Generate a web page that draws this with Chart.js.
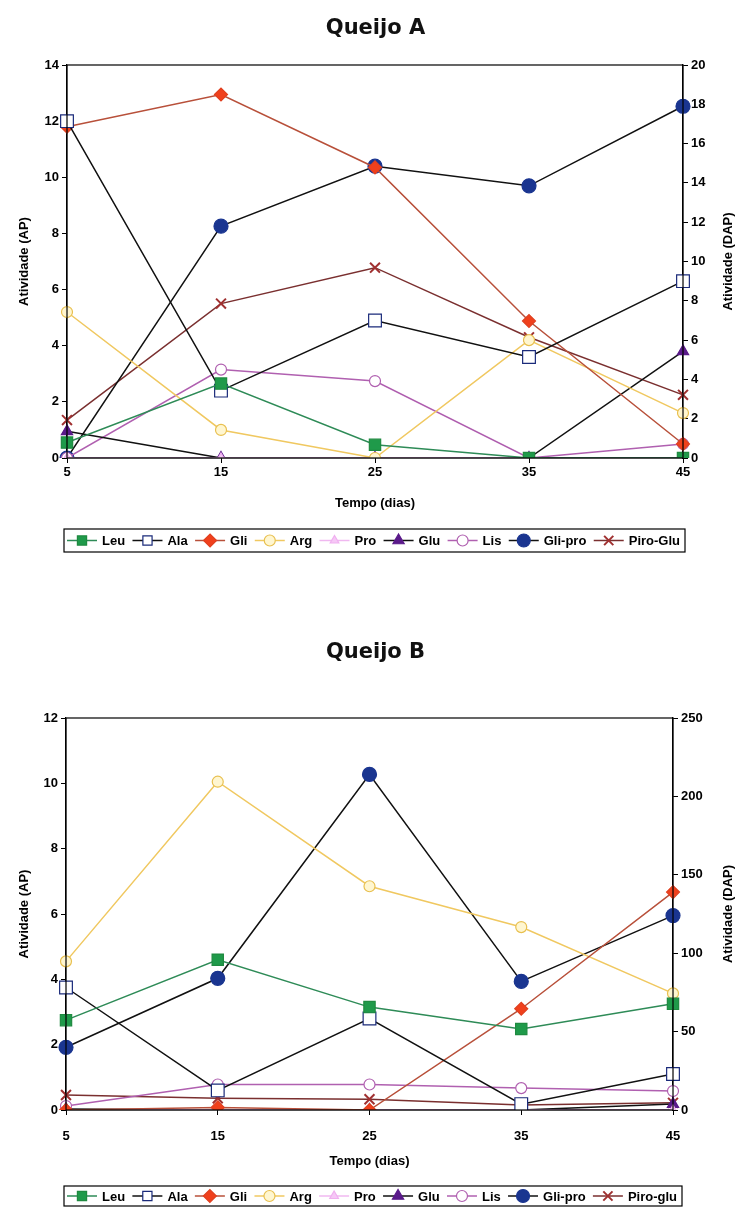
<!DOCTYPE html>
<html>
<head>
<meta charset="utf-8">
<script src="https://cdn.jsdelivr.net/npm/chart.js@4.4.0/dist/chart.umd.min.js"></script>
<style>
body { margin: 0; background: #fff; }
canvas { display: block; }
</style>
</head>
<body>
<canvas id="chartA" width="741" height="600"></canvas>
<canvas id="chartB" width="741" height="607"></canvas>
<script>
// x categories
const days = ['5', '15', '25', '35', '45'];

// Queijo A (AP axis, Gli-pro on DAP axis)
const leuA = [0.55, 2.65, 0.47, 0, 0];
const alaA = [12.0, 2.4, 4.9, 3.6, 6.3];
const gliA = [11.8, 12.95, 10.35, 4.88, 0.5];
const argA = [5.2, 1.0, 0, 4.2, 1.6];
const proA = [0, 0, 0, 0, 0];
const gluA = [0.95, 0, 0, 0, 3.8];
const lisA = [0, 3.15, 2.74, 0, 0.5];
const gliProA = [0, 11.8, 14.85, 13.85, 17.9];
const piroA = [1.35, 5.5, 6.78, 4.3, 2.25];

// Queijo B (AP axis, Gli-pro on DAP axis)
const leuB = [2.75, 4.6, 3.15, 2.48, 3.25];
const alaB = [3.75, 0.6, 2.8, 0.18, 1.1];
const gliB = [0, 0.08, 0, 3.1, 6.67];
const argB = [4.55, 10.05, 6.85, 5.6, 3.57];
const proB = [0, 0, 0, 0, 0];
const gluB = [0.03, 0, 0, 0, 0.18];
const lisB = [0.12, 0.78, 0.78, 0.67, 0.58];
const gliProB = [40, 84, 214, 82, 124];
const piroB = [0.46, 0.36, 0.33, 0.15, 0.22];

const FONT = "'Liberation Sans', Arial, sans-serif";

// series look, in legend order
const looks = [
    { label: 'Leu', line: '#2e8b57', fill: '#1f9a4a', stroke: '#1f8a40', style: 'rect', r: 8 },
    { label: 'Ala', line: '#111111', fill: '#ffffff', stroke: '#1a2a7a', style: 'rect', r: 9 },
    { label: 'Gli', line: '#b8503a', fill: '#f0401c', stroke: '#e04020', style: 'rectRot', r: 6.5 },
    { label: 'Arg', line: '#f0c860', fill: '#fff6d0', stroke: '#e8c050', style: 'circle', r: 5.5 },
    { label: 'Pro', line: '#f0b8f0', fill: '#f6c8f6', stroke: '#f0b0f0', style: 'triangle', r: 5 },
    { label: 'Glu', line: '#111111', fill: '#5a1a8a', stroke: '#5a1a8a', style: 'triangle', r: 6.5 },
    { label: 'Lis', line: '#b060b0', fill: '#ffffff', stroke: '#b060b0', style: 'circle', r: 5.5 },
    { label: 'Gli-pro', line: '#111111', fill: '#1a3590', stroke: '#1a3590', style: 'circle', r: 7 },
    { label: 'Piro-Glu', line: '#7a2f2f', fill: '#a03030', stroke: '#a03030', style: 'crossRot', r: 7 }
];

function makeDatasets(series, dapIndex, lastLabel) {
    return series.map((vals, i) => {
        const lk = looks[i];
        return {
            label: i === 8 ? lastLabel : lk.label,
            data: vals,
            yAxisID: i === dapIndex ? 'y1' : 'y',
            borderColor: lk.line,
            borderWidth: 1.5,
            pointStyle: lk.style,
            pointRadius: lk.r,
            pointBackgroundColor: lk.fill,
            pointBorderColor: lk.stroke,
            pointBorderWidth: lk.style === 'crossRot' ? 2 : 1.2,
            tension: 0,
            fill: false
        };
    });
}

// box around plot area + right axis title read bottom to top
const framePlugin = {
    id: 'frame',
    afterDraw(chart, args, opts) {
        const a = chart.chartArea;
        const ctx = chart.ctx;
        ctx.save();
        ctx.strokeStyle = '#000';
        ctx.lineWidth = 1.2;
        ctx.strokeRect(a.left, a.top, a.right - a.left, a.bottom - a.top);
        ctx.translate(opts.rightTitleX, (a.top + a.bottom) / 2);
        ctx.rotate(-Math.PI / 2);
        ctx.font = 'bold 13px ' + FONT;
        ctx.fillStyle = '#000';
        ctx.textAlign = 'center';
        ctx.textBaseline = 'middle';
        ctx.fillText('Atividade (DAP)', 0, 0);
        ctx.restore();
    }
};

// excel style legend: line with marker, label, boxed
const boxLegend = {
    id: 'boxLegend',
    afterDraw(chart, args, opts) {
        const ctx = chart.ctx;
        const bx = opts.x, by = opts.y, bw = opts.w, bh = opts.h;
        ctx.save();
        ctx.strokeStyle = '#000';
        ctx.lineWidth = 1.2;
        ctx.strokeRect(bx, by, bw, bh);
        ctx.font = 'bold 13px ' + FONT;
        ctx.textBaseline = 'middle';
        const sets = chart.data.datasets;
        const lineLen = 30;
        const widths = sets.map(d => lineLen + 5 + ctx.measureText(d.label).width);
        const total = widths.reduce((s, w) => s + w, 0);
        const gap = (bw - 8 - total) / (sets.length - 1);
        let x = bx + 3;
        const cy = by + bh / 2;
        sets.forEach((d, i) => {
            ctx.strokeStyle = d.borderColor;
            ctx.lineWidth = 1.5;
            ctx.beginPath();
            ctx.moveTo(x, cy);
            ctx.lineTo(x + lineLen, cy);
            ctx.stroke();
            ctx.fillStyle = d.pointBackgroundColor;
            ctx.strokeStyle = d.pointBorderColor;
            ctx.lineWidth = d.pointBorderWidth;
            Chart.helpers.drawPoint(ctx, {
                pointStyle: d.pointStyle, radius: Math.min(d.pointRadius, 6.5), rotation: 0, borderWidth: d.pointBorderWidth
            }, x + lineLen / 2, cy);
            ctx.fillStyle = '#000';
            ctx.fillText(d.label, x + lineLen + 5, cy + 1);
            x += widths[i] + gap;
        });
        ctx.restore();
    }
};

function axisY(opts) {
    return {
        position: opts.position,
        min: 0,
        max: opts.max,
        ticks: { stepSize: opts.step, color: '#000', font: { family: FONT, size: 13, weight: 'bold' }, padding: 3 },
        grid: { drawOnChartArea: false, drawTicks: true, tickLength: 5, color: '#000' },
        border: { color: '#000', width: 1.2 },
        title: { display: opts.showTitle, text: opts.title, color: '#000', font: { family: FONT, size: 13, weight: 'bold' }, padding: 2 },
        afterFit(scale) { scale.width = opts.width; }
    };
}

function buildChart(id, cfg) {
    return new Chart(document.getElementById(id), {
        type: 'line',
        data: { labels: days, datasets: cfg.datasets },
        options: {
            responsive: false,
            animation: false,
            layout: { padding: { left: 15, right: 5, top: 0, bottom: cfg.padBottom } },
            plugins: {
                legend: { display: false },
                tooltip: { enabled: false },
                title: {
                    display: true,
                    text: cfg.title,
                    color: '#111',
                    font: { family: "'DejaVu Sans', sans-serif", size: 21, weight: 'bold', lineHeight: 1.2 },
                    padding: { top: cfg.titleTop, bottom: cfg.titleBottom }
                },
                frame: { rightTitleX: 728 },
                boxLegend: cfg.legend
            },
            scales: {
                x: {
                    offset: false,
                    ticks: { color: '#000', font: { family: FONT, size: 13, weight: 'bold' }, padding: cfg.xTickPad, maxRotation: 0 },
                    grid: { drawOnChartArea: false, drawTicks: true, tickLength: 5, color: '#000', offset: false },
                    border: { color: '#000', width: 1.2 },
                    title: { display: true, text: 'Tempo (dias)', color: '#000', font: { family: FONT, size: 13, weight: 'bold' }, padding: 0 },
                    afterFit(scale) { scale.height = cfg.xHeight; }
                },
                y: axisY({ position: 'left', max: cfg.apMax, step: 2, title: 'Atividade (AP)', width: cfg.leftW, showTitle: true }),
                y1: axisY({ position: 'right', max: cfg.dapMax, step: cfg.dapStep, title: 'Atividade (DAP)', width: cfg.rightW, showTitle: false })
            }
        },
        plugins: [framePlugin, boxLegend]
    });
}

buildChart('chartA', {
    title: 'Queijo A',
    datasets: makeDatasets([leuA, alaA, gliA, argA, proA, gluA, lisA, gliProA, piroA], 7, 'Piro-Glu'),
    apMax: 14, dapMax: 20, dapStep: 2,
    leftW: 52, rightW: 53,
    titleTop: 16, titleBottom: 23.8,
    xHeight: 53, xTickPad: 2, padBottom: 89,
    legend: { x: 64, y: 529, w: 621, h: 23 }
});

buildChart('chartB', {
    title: 'Queijo B',
    datasets: makeDatasets([leuB, alaB, gliB, argB, proB, gluB, lisB, gliProB, piroB], 7, 'Piro-glu'),
    apMax: 12, dapMax: 250, dapStep: 50,
    leftW: 51, rightW: 63,
    titleTop: 40, titleBottom: 52.8,
    xHeight: 59, xTickPad: 14, padBottom: 38,
    legend: { x: 64, y: 586, w: 618, h: 20 }
});
</script>
</body>
</html>
